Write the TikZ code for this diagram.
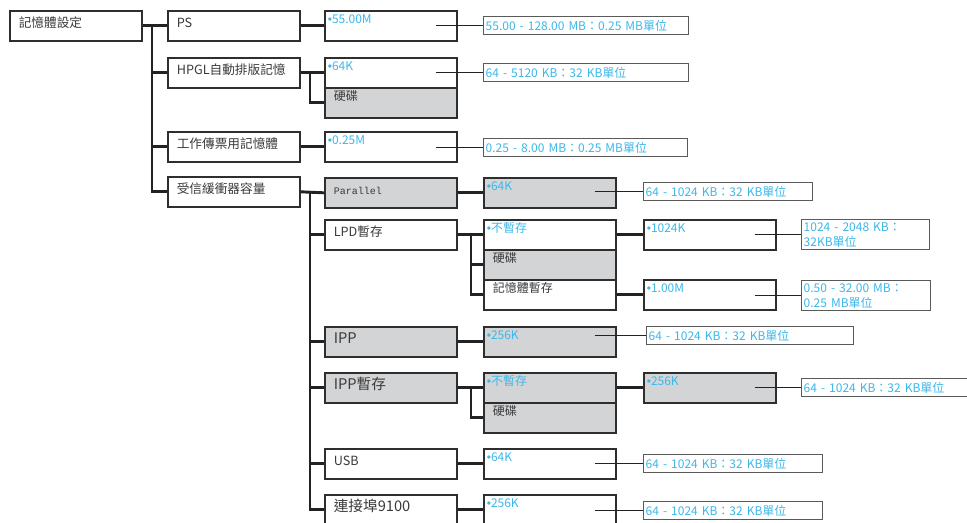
\documentclass[tikz,border=0pt]{standalone}
\usepackage{fontspec}
\setmainfont{Noto Sans CJK TC}
\newfontfamily\monofnt{Liberation Mono}
\newfontfamily\latfnt{Liberation Sans}
\newcommand\blt{{\latfnt •}}
\definecolor{boxc}{HTML}{2E2E2E}
\definecolor{rngc}{HTML}{5A5A5A}
\definecolor{hdc}{HTML}{D3D4D6}
\definecolor{bluec}{HTML}{3CB8EA}
\definecolor{txtc}{HTML}{3A3A3A}
\definecolor{treec}{HTML}{222222}
\tikzset{
  lbl/.style={draw=boxc,line width=1.2pt,fill=white,anchor=north west,inner xsep=6.75pt,inner ysep=0pt,
    text width=85.5pt,text height=12.75pt,text depth=9.75pt,align=left,text=txtc,font=\fontsize{9.5}{11}\selectfont},
  big/.style={font=\fontsize{11}{13}\selectfont},
  val/.style={lbl,inner xsep=2.25pt,text width=94.5pt,text height=9.75pt,text depth=12.75pt,text=bluec,font=\fontsize{9}{11}\selectfont},
  opt/.style={val,inner xsep=6.75pt,text width=85.5pt,text=txtc},
  hd/.style={fill=hdc},
  rng/.style={draw=rngc,line width=1.1pt,fill=white,anchor=north west,inner xsep=1.5pt,inner ysep=0pt,minimum height=13.5pt,
    text width=#1,align=left,text=bluec,font=\fontsize{9}{11.25}\selectfont},
  tree/.style={draw=treec,line width=2.2pt},
  lnk/.style={draw=treec,line width=0.8pt}
}
\begin{document}
\begin{tikzpicture}[x=0.75pt,y=-0.75pt]
\clip (0,0) rectangle (967,522);
\fill[white] (0,0) rectangle (967,522);

\node[lbl] (root) at (9,10) {記憶體設定};
\node[lbl] (ps) at (167,10) {PS};
\node[lbl] (hpgl) at (167,57) {HPGL自動排版記憶};
\node[lbl] (job) at (167,131) {工作傳票用記憶體};
\node[lbl] (buf) at (167,176) {受信緩衝器容量};

\node[val] (psv) at (324,10) {\blt{}55.00M};
\node[val] (hpglv) at (324,57) {\blt{}64K};
\node[opt,hd] (hpglhd) at (324,87) {硬碟};
\node[val] (jobv) at (324,131) {\blt{}0.25M};

\node[lbl,hd,font=\monofnt\fontsize{7.5}{9}\selectfont] (par) at (324,177) {Parallel};
\node[lbl] (lpd) at (324,219) {LPD暫存};
\node[lbl,hd,big] (ipp) at (324,326) {IPP};
\node[lbl,hd,big] (ippj) at (324,372) {IPP暫存};
\node[lbl] (usb) at (324,448) {USB};
\node[lbl,big] (p9100) at (324,494) {連接埠9100};

\node[val,hd] (parv) at (483,177) {\blt{}64K};
\node[val] (lpdv) at (483,219) {\blt{}不暫存};
\node[opt,hd] (lpdhd) at (483,249) {硬碟};
\node[opt] (lpdmem) at (483,279) {記憶體暫存};
\node[val,hd] (ippv) at (483,326) {\blt{}256K};
\node[val,hd] (ippjv) at (483,372) {\blt{}不暫存};
\node[opt,hd] (ippjhd) at (483,402) {硬碟};
\node[val] (usbv) at (483,448) {\blt{}64K};
\node[val] (p9100v) at (483,494) {\blt{}256K};

\node[val] (lpdk) at (643,219) {\blt{}1024K};
\node[val] (lpdm) at (643,279) {\blt{}1.00M};
\node[val,hd] (ippjk) at (643,372) {\blt{}256K};

\node[rng=150.75pt] (psr) at (483,16) {55.00 - 128.00 MB：0.25 MB單位};
\node[rng=150.75pt] (hpglr) at (483,63) {64 - 5120 KB：32 KB單位};
\node[rng=150pt] (jobr) at (483,138) {0.25 - 8.00 MB：0.25 MB單位};
\node[rng=123.75pt] (parr) at (643,182) {64 - 1024 KB：32 KB單位};
\node[rng=93pt,minimum height=22.5pt] (lpdkr) at (801,219) {1024 - 2048 KB：\\32KB單位};
\node[rng=93.75pt,minimum height=22.5pt] (lpdmr) at (801,280) {0.50 - 32.00 MB：\\0.25 MB單位};
\node[rng=152.25pt] (ippr) at (646,326) {64 - 1024 KB：32 KB單位};
\node[rng=140pt] (ippjr) at (801,378) {64 - 1024 KB：32 KB單位};
\node[rng=131.25pt] (usbr) at (643,454) {64 - 1024 KB：32 KB單位};
\node[rng=131.25pt] (p9100r) at (643,501) {64 - 1024 KB：32 KB單位};

\coordinate (j0) at (152,25);
\coordinate (j1) at (310,72);
\coordinate (j2) at (310,191);
\coordinate (j3) at (471,234);
\coordinate (j4) at (471,387);

\draw[tree] (root.east) -- (ps.west);
\foreach \nn in {hpgl,job,buf} \draw[tree] (j0) |- (\nn.west);
\draw[tree] (ps.east) -- (psv.west);
\draw[tree] (hpgl.east) -- (hpglv.west);
\draw[tree] (j1) |- (hpglhd.west);
\draw[tree] (job.east) -- (jobv.west);
\draw[tree] (buf.east) -- (par.west);
\foreach \nn in {lpd,ipp,ippj,usb,p9100} \draw[tree] (j2) |- (\nn.west);
\foreach \na/\nb in {par/parv,lpd/lpdv,ipp/ippv,ippj/ippjv,usb/usbv,p9100/p9100v,lpdv/lpdk,lpdmem/lpdm,ippjv/ippjk}
  \draw[tree] (\na.east) -- (\nb.west);
\draw[tree] (j3) |- (lpdhd.west);
\draw[tree] (j3) |- (lpdmem.west);
\draw[tree] (j4) |- (ippjhd.west);

\foreach \na/\nb in {psv/psr,hpglv/hpglr,jobv/jobr,parv/parr,lpdk/lpdkr,lpdm/lpdmr,ippv/ippr,ippjk/ippjr,usbv/usbr,p9100v/p9100r}
  \draw[lnk] ([xshift=-16.5pt]\na.east |- \nb.west) -- (\nb.west);
\end{tikzpicture}
\end{document}
